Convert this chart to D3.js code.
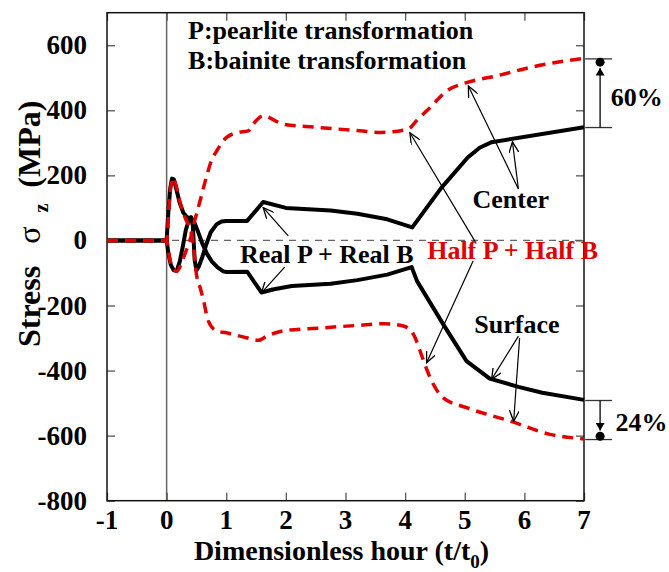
<!DOCTYPE html>
<html>
<head>
<meta charset="utf-8">
<script src="https://cdn.jsdelivr.net/npm/d3@7"></script>
<style>
  body { margin: 0; background: #fff; }
  text { font-family: "Liberation Serif", "Times New Roman", serif; font-weight: bold; }
</style>
</head>
<body>
<script>
// dimensionless hour values and stresses (MPa)
var centerT = [-1, 0, 0.03, 0.07, 0.12, 0.17, 0.22, 0.27, 0.32, 0.37, 0.41, 0.44, 0.47, 0.5, 0.54, 0.6, 0.66, 0.74, 0.84, 0.92, 1.0, 1.35, 1.62, 2.0, 2.75, 3.2, 3.7, 4.12, 4.6, 5.05, 5.25, 5.45, 7.0];
var centerS = [0, 0, -40, -75, -92, -93, -65, -20, 30, 62, 72, 45, -60, -92, -80, -50, -15, 25, 50, 58, 60, 60, 118, 100, 92, 82, 65, 40, 160, 255, 285, 302, 348];

var surfaceT = [-1, 0, 0.03, 0.06, 0.09, 0.12, 0.16, 0.22, 0.28, 0.34, 0.4, 0.45, 0.52, 0.6, 0.68, 0.76, 0.85, 0.95, 1.0, 1.35, 1.59, 1.8, 2.1, 2.75, 3.2, 3.7, 4.11, 4.2, 4.64, 5.03, 5.42, 5.9, 6.3, 7.0];
var surfaceS = [0, 0, 90, 160, 190, 188, 160, 115, 85, 72, 68, 62, 30, -10, -42, -65, -82, -95, -97, -96, -160, -150, -140, -133, -122, -105, -82, -125, -258, -371, -425, -450, -468, -490];

var halfCenterT = [-1, 0, 0.05, 0.1, 0.17, 0.25, 0.32, 0.39, 0.47, 0.56, 0.66, 0.75, 0.84, 1.0, 1.2, 1.37, 1.45, 1.62, 1.96, 2.5, 3.24, 3.6, 4.05, 4.19, 4.42, 4.7, 5.03, 5.54, 6.1, 7.0];
var halfCenterS = [0, 0, -55, -85, -95, -70, -35, 0, 60, 121, 190, 245, 275, 316, 332, 337, 357, 383, 357, 348, 337, 332, 342, 368, 409, 460, 485, 506, 532, 560];

var halfSurfaceT = [-1, 0, 0.05, 0.1, 0.15, 0.22, 0.3, 0.38, 0.44, 0.5, 0.57, 0.62, 0.7, 0.84, 1.0, 1.34, 1.54, 1.68, 1.96, 2.52, 3.3, 3.64, 3.97, 4.14, 4.3, 4.42, 4.64, 5.03, 5.76, 6.43, 7.0];
var halfSurfaceS = [0, 0, 130, 192, 175, 120, 75, 40, 0, -104, -150, -186, -248, -278, -284, -299, -307, -294, -278, -270, -260, -256, -263, -289, -365, -422, -484, -514, -555, -596, -610];

var xTicks = [-1, 0, 1, 2, 3, 4, 5, 6, 7];
var yTicks = [-800, -600, -400, -200, 0, 200, 400, 600];

// labels: [text, t, stress, colour]
var labels = [
  ["P:pearlite transformation", 0.36, 618, "#000"],
  ["B:bainite transformation", 0.36, 526, "#000"],
  ["Center", 5.13, 100, "#000"],
  ["Surface", 5.16, -285, "#000"],
  ["Real P + Real B", 1.23, -68, "#000"],
  ["Half P + Half B", 4.37, -56, "#e00000"]
];

// pointer arrows: [t0, s0, t1, s1] (tip at t1, s1)
var pointers = [
  [5.9, 158, 5.06, 475],
  [5.9, 158, 5.8, 303],
  [5.17, -2, 4.08, 331],
  [5.14, -63, 4.36, -376],
  [2.04, 14, 1.62, 101],
  [1.98, -82, 1.59, -161],
  [5.9, -294, 5.45, -427],
  [5.92, -300, 5.82, -556]
];

var w = 669, h = 572;
var mLeft = 107, mRight = 584, mTop = 12.7, mBottom = 500.7;

var svg = d3.select("body").append("svg")
  .attr("width", w)
  .attr("height", h);

var defs = svg.append("defs");
defs.append("marker")
  .attr("id", "open")
  .attr("viewBox", "0 0 12 10")
  .attr("refX", 11).attr("refY", 5)
  .attr("markerWidth", 12).attr("markerHeight", 10)
  .attr("markerUnits", "userSpaceOnUse")
  .attr("orient", "auto")
  .append("path")
  .attr("d", "M0,0 L11,5 L0,10")
  .attr("fill", "none")
  .attr("stroke", "#000")
  .attr("stroke-width", 1.3);
defs.append("marker")
  .attr("id", "solid")
  .attr("viewBox", "0 0 10 12")
  .attr("refX", 10).attr("refY", 6)
  .attr("markerWidth", 12).attr("markerHeight", 9)
  .attr("markerUnits", "userSpaceOnUse")
  .attr("orient", "auto")
  .append("path")
  .attr("d", "M0,0 L10,6 L0,12 Z")
  .attr("fill", "#000");

var x = d3.scaleLinear().domain([-1, 7]).range([mLeft, mRight]);
var y = d3.scaleLinear().domain([-800, 700]).range([mBottom, mTop]);

// zero reference lines
svg.append("line")
  .attr("x1", mLeft).attr("x2", mRight)
  .attr("y1", y(0)).attr("y2", y(0))
  .attr("stroke", "#666").attr("stroke-width", 1.2)
  .attr("stroke-dasharray", "7,6");
svg.append("line")
  .attr("x1", x(0)).attr("x2", x(0))
  .attr("y1", mTop).attr("y2", mBottom)
  .attr("stroke", "#666").attr("stroke-width", 1.5);

// axes, ticks inward on all four sides
svg.append("g").attr("transform", "translate(0," + mBottom + ")")
  .call(d3.axisBottom(x).tickValues(xTicks).tickSize(-8).tickFormat(""));
svg.append("g").attr("transform", "translate(0," + mTop + ")")
  .call(d3.axisTop(x).tickValues(xTicks).tickSize(-8).tickFormat(""));
svg.append("g").attr("transform", "translate(" + mLeft + ",0)")
  .call(d3.axisLeft(y).tickValues(yTicks).tickSize(-8).tickFormat(""));
svg.append("g").attr("transform", "translate(" + mRight + ",0)")
  .call(d3.axisRight(y).tickValues(yTicks).tickSize(-8).tickFormat(""));
svg.selectAll(".domain").remove();
svg.selectAll(".tick line").attr("stroke", "#555").attr("stroke-width", 1.3);

svg.append("rect")
  .attr("x", mLeft).attr("y", mTop)
  .attr("width", mRight - mLeft).attr("height", mBottom - mTop)
  .attr("fill", "none").attr("stroke", "#111").attr("stroke-width", 1.5);

// tick labels
svg.selectAll(".xl").data(xTicks).enter().append("text")
  .attr("x", function(d){ return x(d); })
  .attr("y", mBottom + 28)
  .attr("text-anchor", "middle")
  .attr("font-size", 27)
  .text(function(d){ return d; });
svg.selectAll(".yl").data(yTicks).enter().append("text")
  .attr("x", mLeft - 20)
  .attr("y", function(d){ return y(d) + 9; })
  .attr("text-anchor", "end")
  .attr("font-size", 27)
  .text(function(d){ return d; });

// curves
var sharp = d3.line()
  .x(function(d){ return x(d[0]); })
  .y(function(d){ return y(d[1]); });
var smooth = d3.line()
  .x(function(d){ return x(d[0]); })
  .y(function(d){ return y(d[1]); })
  .curve(d3.curveMonotoneX);

function pairs(t, s){ return t.map(function(v, i){ return [v, s[i]]; }); }

[[centerT, centerS], [surfaceT, surfaceS]].forEach(function(c){
  svg.append("path")
    .attr("d", sharp(pairs(c[0], c[1])))
    .attr("fill", "none")
    .attr("stroke", "#000")
    .attr("stroke-width", 4)
    .attr("stroke-linejoin", "round");
});
[[halfCenterT, halfCenterS], [halfSurfaceT, halfSurfaceS]].forEach(function(c){
  svg.append("path")
    .attr("d", smooth(pairs(c[0], c[1])))
    .attr("fill", "none")
    .attr("stroke", "#e00000")
    .attr("stroke-width", 3.5)
    .attr("stroke-dasharray", "11,7");
});

// pointer arrows
svg.selectAll(".ptr").data(pointers).enter().append("line")
  .attr("x1", function(d){ return x(d[0]); })
  .attr("y1", function(d){ return y(d[1]); })
  .attr("x2", function(d){ return x(d[2]); })
  .attr("y2", function(d){ return y(d[3]); })
  .attr("stroke", "#000").attr("stroke-width", 1.2)
  .attr("marker-end", "url(#open)");

// annotation text
svg.selectAll(".lab").data(labels).enter().append("text")
  .attr("x", function(d){ return x(d[1]); })
  .attr("y", function(d){ return y(d[2]); })
  .attr("font-size", 26)
  .attr("fill", function(d){ return d[3]; })
  .text(function(d){ return d[0]; });

// percentage brackets on the right
var bx = x(7.27);
function bracket(sFrom, sTo, label, labelS, labelT){
  [sFrom, sTo].forEach(function(s){
    svg.append("line")
      .attr("x1", x(7.02)).attr("x2", x(7.47))
      .attr("y1", y(s)).attr("y2", y(s))
      .attr("stroke", "#333").attr("stroke-width", 1.3);
  });
  var dir = sTo > sFrom ? 1 : -1;
  svg.append("line")
    .attr("x1", bx).attr("x2", bx)
    .attr("y1", y(sFrom)).attr("y2", y(sTo - dir * 28))
    .attr("stroke", "#000").attr("stroke-width", 1.3)
    .attr("marker-end", "url(#solid)");
  svg.append("circle")
    .attr("cx", bx).attr("cy", y(sTo - dir * 10))
    .attr("r", 4.5).attr("fill", "#000");
  svg.append("text")
    .attr("x", x(labelT)).attr("y", y(labelS))
    .attr("font-size", 26)
    .text(label);
}
bracket(347, 558, "60%", 414, 7.45);
bracket(-492, -612, "24%", -585, 7.53);

// axis titles
var xt = svg.append("text")
  .attr("x", (mLeft + mRight) / 2 - 4)
  .attr("y", 560)
  .attr("text-anchor", "middle")
  .attr("font-size", 28);
xt.append("tspan").text("Dimensionless hour (t/t");
xt.append("tspan").attr("font-size", 19).attr("dy", 8).text("0");
xt.append("tspan").attr("dy", -8).text(")");

var yt = svg.append("text")
  .attr("transform", "translate(40,347) rotate(-90)")
  .attr("text-anchor", "start")
  .attr("font-size", 32);
yt.append("tspan").text("Stress");
yt.append("tspan").attr("dx", 22).attr("font-weight", "normal").text("σ");
yt.append("tspan").attr("dx", 14).attr("dy", 8).attr("font-size", 20).text("z");
yt.append("tspan").attr("dx", 16).attr("dy", -8).text("(MPa)");
</script>
</body>
</html>
